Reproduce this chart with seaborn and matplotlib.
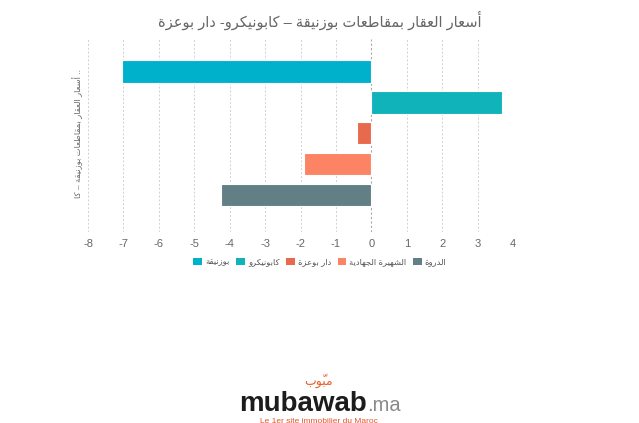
import matplotlib
matplotlib.use("Agg")
import matplotlib.pyplot as plt
from matplotlib.patches import Patch
import pandas as pd
import seaborn as sns

# ---- data -------------------------------------------------------------
TITLE = "أسعار العقار بمقاطعات بوزنيقة – كابونيكرو- دار بوعزة"
CATEGORY = "أسعار العقار بمقاطعات بوزنيقة – كابونيكرو- دار بوعزة"
regions = ["بوزنيقة", "كابونيكرو", "دار بوعزة", "الشهيرة الجهادية", "الدروة"]
changes = [-7.05, 3.7, -0.4, -1.9, -4.25]
colors = ["#00b1cb", "#10b3ba", "#e76a4e", "#fc8464", "#617f84"]
x_ticks = list(range(-8, 5))

# ---- minimal Arabic shaping (presentation forms + visual order) ------
_FORMS = {
    'ء': (0xFE80, 1), 'آ': (0xFE81, 2), 'أ': (0xFE83, 2), 'ؤ': (0xFE85, 2),
    'إ': (0xFE87, 2), 'ئ': (0xFE89, 4), 'ا': (0xFE8D, 2), 'ب': (0xFE8F, 4),
    'ة': (0xFE93, 2), 'ت': (0xFE95, 4), 'ث': (0xFE99, 4), 'ج': (0xFE9D, 4),
    'ح': (0xFEA1, 4), 'خ': (0xFEA5, 4), 'د': (0xFEA9, 2), 'ذ': (0xFEAB, 2),
    'ر': (0xFEAD, 2), 'ز': (0xFEAF, 2), 'س': (0xFEB1, 4), 'ش': (0xFEB5, 4),
    'ص': (0xFEB9, 4), 'ض': (0xFEBD, 4), 'ط': (0xFEC1, 4), 'ظ': (0xFEC5, 4),
    'ع': (0xFEC9, 4), 'غ': (0xFECD, 4), 'ف': (0xFED1, 4), 'ق': (0xFED5, 4),
    'ك': (0xFED9, 4), 'ل': (0xFEDD, 4), 'م': (0xFEE1, 4), 'ن': (0xFEE5, 4),
    'ه': (0xFEE9, 4), 'و': (0xFEED, 2), 'ى': (0xFEEF, 2), 'ي': (0xFEF1, 4),
}
_MARKS = {chr(c) for c in range(0x064B, 0x0653)}


def shape(text):
    chars = list(text)
    shaped = []
    for i, ch in enumerate(chars):
        if ch not in _FORMS:
            shaped.append(ch)
            continue
        j = i - 1
        while j >= 0 and chars[j] in _MARKS:
            j -= 1
        k = i + 1
        while k < len(chars) and chars[k] in _MARKS:
            k += 1
        prev = chars[j] if j >= 0 else None
        nxt = chars[k] if k < len(chars) else None
        base, n = _FORMS[ch]
        join_prev = prev in _FORMS and _FORMS[prev][1] == 4
        join_next = n == 4 and nxt in _FORMS
        if n == 1:
            form = 0
        elif join_prev and join_next:
            form = 3
        elif join_prev:
            form = 1
        elif join_next:
            form = 2
        else:
            form = 0
        shaped.append(chr(base + form))
    # reverse by clusters so marks stay after their base letter
    clusters = []
    for ch in shaped:
        if ch in _MARKS and clusters:
            clusters[-1] += ch
        else:
            clusters.append(ch)
    return "".join(reversed(clusters))


# ---- style ------------------------------------------------------------
sns.set_theme(style="white")
plt.rcParams["font.family"] = ["Liberation Sans", "DejaVu Sans"]

W, H = 639, 423
fig = plt.figure(figsize=(W / 100, H / 100), dpi=100)
ax = fig.add_axes([88 / W, 1 - 232 / H, (513 - 88) / W, (232 - 39) / H])

df = pd.DataFrame({
    "category": [CATEGORY] * len(regions),
    "region": regions,
    "change": changes,
})

sns.barplot(
    data=df, x="change", y="category", hue="region",
    hue_order=regions, palette=colors, saturation=1, orient="h",
    gap=0.27, dodge=True, legend=False, ax=ax,
    edgecolor="white", linewidth=0.8, zorder=3,
)

ax.set_xlim(-8, 4)
ax.set_xticks(x_ticks)
ax.set_xticklabels([str(t) for t in x_ticks])
ax.set_ylim(0.512, -0.488)
ax.set_yticks([0])
ax.set_yticklabels([shape(CATEGORY[:34]) + " .."], rotation=90,
                   va="center", fontsize=6, color="#666666")
ax.set_xlabel("")
ax.set_ylabel("")
for s in ax.spines.values():
    s.set_visible(False)
ax.tick_params(axis="x", length=0, pad=5, labelsize=8, labelcolor="#666666")
ax.tick_params(axis="y", length=0, pad=3.5)

for t in x_ticks:
    ax.axvline(t, color="#a8a8a8" if t == 0 else "#d0d0d0",
               lw=0.8 if t == 0 else 0.7, ls=(0, (2, 2)), zorder=1)

fig.text(0.5, 1 - 20 / H, shape(TITLE), ha="center", va="center",
         fontsize=10.5, color="#666666")

handles = [Patch(facecolor=c, edgecolor="none") for c in colors]
fig.legend(handles, [shape(r) for r in regions], loc="center",
           bbox_to_anchor=(320 / W, 1 - 262 / H), ncol=5, frameon=False,
           fontsize=6, handlelength=1.05, handleheight=1.05,
           handletextpad=0.35, columnspacing=0.8, labelcolor="#555555")

# ---- brand footer -----------------------------------------------------
fig.text(367 / W, 1 - 411 / H, "mubawab", ha="right", va="baseline",
         fontsize=20, fontweight="bold", color="#1c1c1c")
fig.text(367 / W, 1 - 411 / H, ".ma", ha="left", va="baseline",
         fontsize=14.5, color="#8a8a8a")
fig.text(319 / W, 1 - 381 / H, shape("مبوّب"), ha="center", va="center",
         fontsize=9, color="#e5632d")
fig.text(319 / W, 1 - 421 / H, "Le 1er site immobilier du Maroc",
         ha="center", va="center", fontsize=6, color="#e2552b")

fig.savefig("out.png", dpi=100)
